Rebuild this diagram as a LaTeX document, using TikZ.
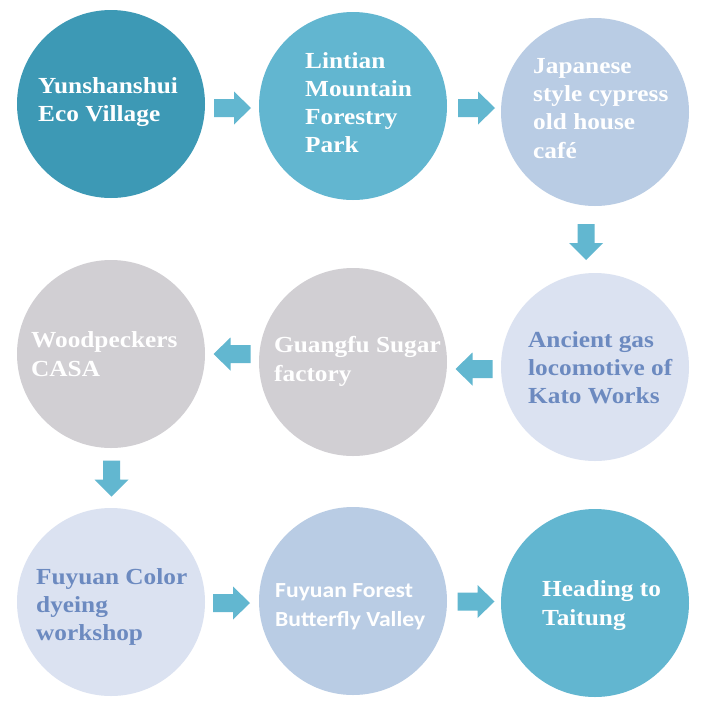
\documentclass[tikz,border=0pt]{standalone}
\usepackage{fontspec}
\newfontfamily\serifb[FakeStretch=1.1]{Liberation Serif}
\newfontfamily\sansb[FakeStretch=1.1]{Carlito}
\definecolor{cA}{HTML}{3D99B5}
\definecolor{cB}{HTML}{62B6D0}
\definecolor{cC}{HTML}{B9CCE4}
\definecolor{cD}{HTML}{DBE2F1}
\definecolor{cE}{HTML}{D1CFD3}
\definecolor{arrc}{HTML}{62B7D0}
\definecolor{bluetxt}{HTML}{6C8AC0}
\tikzset{
  x=1pt, y=-1pt,
  bubble/.style={circle, draw=none, minimum size=188pt, inner sep=0pt},
  label/.style={anchor=base west, align=left, inner sep=0pt, text=white,
    font=\serifb\bfseries\fontsize{23}{28.3}\selectfont},
  slabel/.style={label, font=\sansb\bfseries\fontsize{21.5}{29}\selectfont},
  rightarr/.pic={\fill[arrc] (-18.5,-9) -- (1.5,-9) -- (1.5,-16.5) -- (18.5,0) -- (1.5,16.5) -- (1.5,9) -- (-18.5,9) -- cycle;},
  leftarr/.pic={\fill[arrc] (18.5,-9) -- (-1.5,-9) -- (-1.5,-16.5) -- (-18.5,0) -- (-1.5,16.5) -- (-1.5,9) -- (18.5,9) -- cycle;},
  downarr/.pic={\fill[arrc] (-8.5,-18) -- (-8.5,1) -- (-17,1) -- (0,18) -- (17,1) -- (8.5,1) -- (8.5,-18) -- cycle;}
}
\begin{document}
\begin{tikzpicture}
\useasboundingbox[fill=white] (0,0) rectangle (702,710);
% circles
\node[bubble, fill=cA] (c1) at (111,104) {};
\node[bubble, fill=cB] (c2) at (353,106) {};
\node[bubble, fill=cC] (c3) at (595,112) {};
\node[bubble, fill=cD] (c4) at (595,367) {};
\node[bubble, fill=cE] (c5) at (353,362) {};
\node[bubble, fill=cE] (c6) at (111,354) {};
\node[bubble, fill=cD] (c7) at (111,602) {};
\node[bubble, fill=cC] (c8) at (353,601) {};
\node[bubble, fill=cB] (c9) at (595,603) {};
% labels (anchored at the baseline of the last line)
\node[label] (t1) at (38,121.3) {Yunshanshui\\Eco Village};
\node[label] (t2) at (305,152.9) {Lintian\\Mountain\\Forestry\\Park};
\node[label] (t3) at (533,158) {Japanese\\style cypress\\old house\\café};
\node[label, text=bluetxt] (t4) at (528,403.6) {Ancient gas\\locomotive of\\Kato Works};
\node[label] (t5) at (274,381) {Guangfu Sugar\\factory};
\node[label] (t6) at (31,376) {Woodpeckers\\CASA};
\node[label, text=bluetxt] (t7) at (36,640.6) {Fuyuan Color\\dyeing\\workshop};
\node[slabel] (t8) at (275,626) {Fuyuan Forest\\Butterfly Valley};
\node[label] (t9) at (542,625) {Heading to\\Taitung};
% arrows
\pic at (232.5,108) {rightarr};
\pic at (476.5,108) {rightarr};
\pic at (586,242) {downarr};
\pic at (232,354) {leftarr};
\pic at (474,369) {leftarr};
\pic at (111.5,478.5) {downarr};
\pic at (231.5,603) {rightarr};
\pic at (476,601.5) {rightarr};
\end{tikzpicture}
\end{document}
